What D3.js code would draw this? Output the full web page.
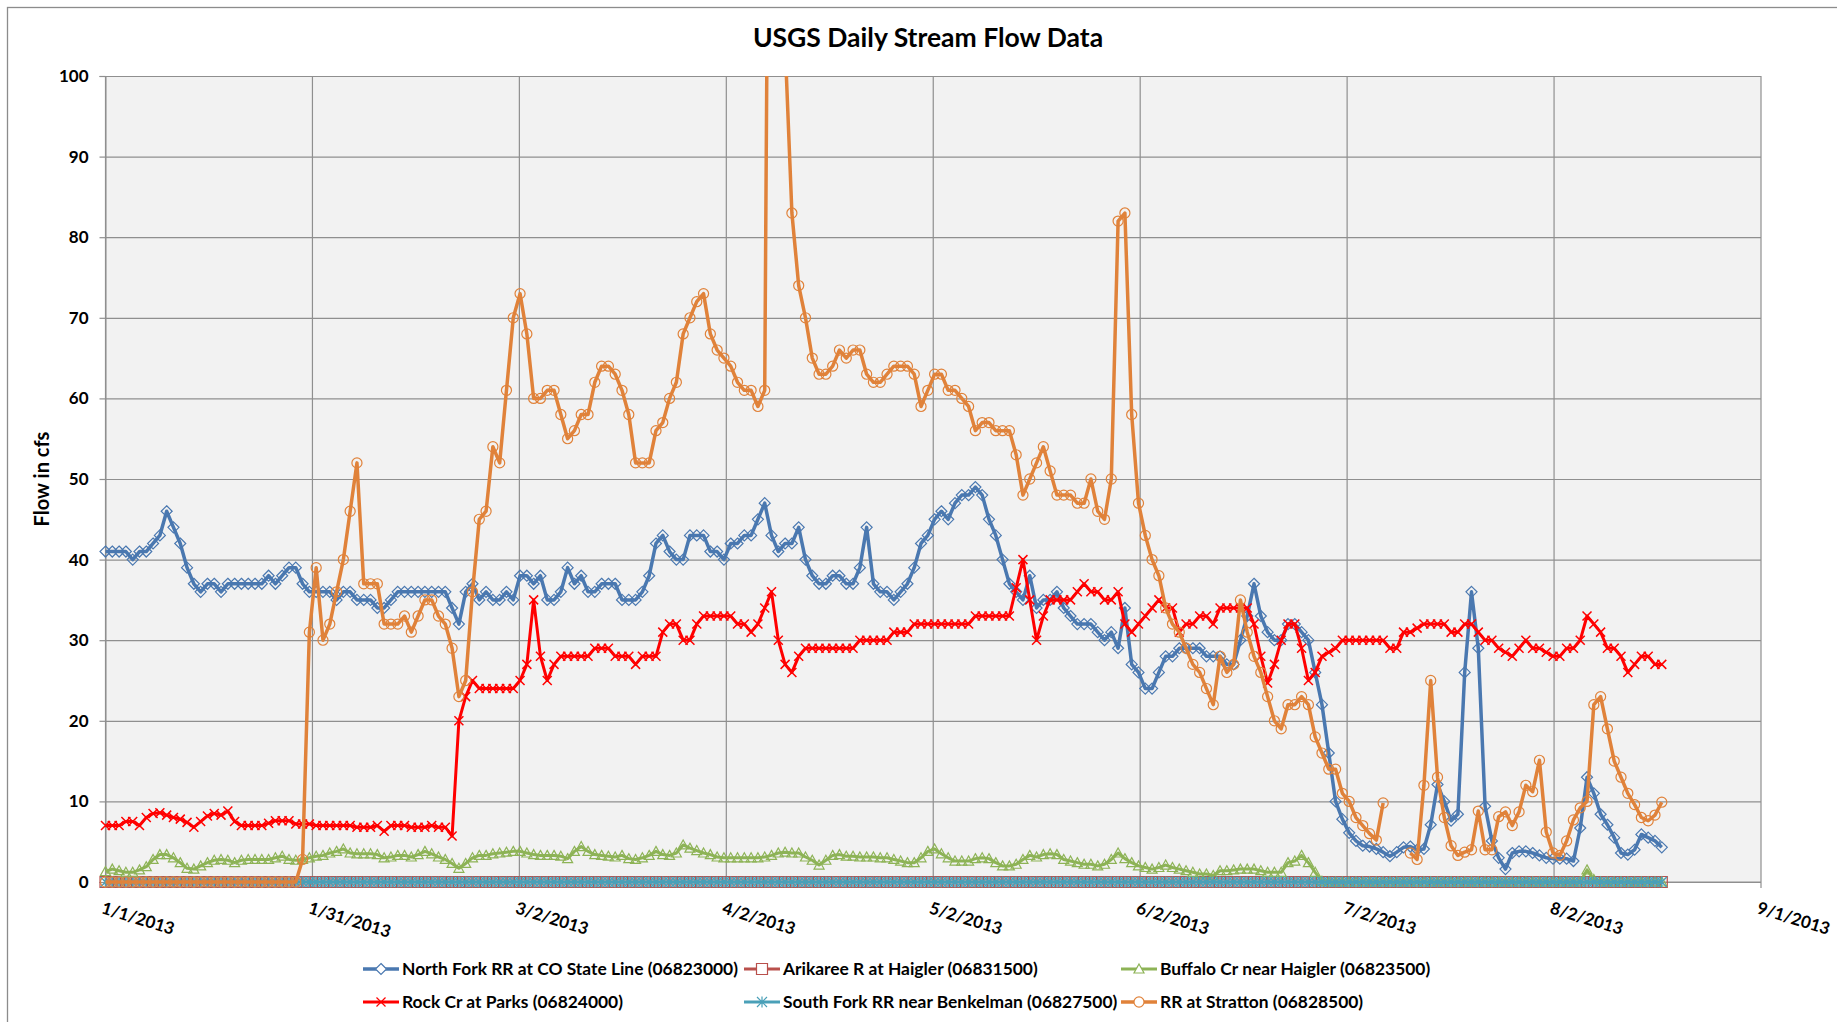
<!DOCTYPE html>
<html lang="en">
<head>
<meta charset="UTF-8">
<title>USGS Daily Stream Flow Data</title>
<style>
  body { margin: 0; background: #fff; }
  svg { display: block; font-family: Lato, "Open Sans", sans-serif; }
  .lbl { font-weight: bold; fill: #000; }
</style>
</head>
<body>
<svg width="1837" height="1022"></svg>
<script src="https://d3js.org/d3.v7.min.js"></script>
<script>
// daily values, 1/1/2013 .. 8/18/2013
var startDate = new Date(2013, 0, 1);
var xTickLabels = ["1/1/2013", "1/31/2013", "3/2/2013", "4/2/2013", "5/2/2013",
                   "6/2/2013", "7/2/2013", "8/2/2013", "9/1/2013"];
var yTicks = [0, 10, 20, 30, 40, 50, 60, 70, 80, 90, 100];

var northFork = [
  41,41,41,41,40,41,41,42,43,46, 44,42,39,37,36,37,37,36,37,37,
  37,37,37,37,38,37,38,39,39,37, 36,36,36,36,35,36,36,35,35,35,
  34,34,35,36,36,36,36,36,36,36, 36,34,32,36,37,35,36,35,35,36,
  35,38,38,37,38,35,35,36,39,37, 38,36,36,37,37,37,35,35,35,36,
  38,42,43,41,40,40,43,43,43,41, 41,40,42,42,43,43,45,47,43,41,
  42,42,44,40,38,37,37,38,38,37, 37,39,44,37,36,36,35,36,37,39,
  42,43,45,46,45,47,48,48,49,48, 45,43,40,37,36,35,38,34,35,35,
  36,34,33,32,32,32,31,30,31,29, 34,27,26,24,24,26,28,28,29,29,
  29,29,28,28,28,27,27,30,33,37, 33,31,30,30,32,32,31,30,26,22,
  16,10,7.8,6.1,5.1,4.5,4.4,4.1,3.7,3.2, 3.7,4.3,4.4,4,4.1,7.1,12.1,10,7.6,8.4,
  26,36,29,9.4,5.1,3,1.6,3.6,3.8,3.8, 3.6,3.3,3,2.9,2.9,2.9,2.6,6.7,13,11,
  8.4,7.1,5.5,3.6,3.4,4,5.9,5.5,5.1,4.3
];

var arikaree = [
  0,0,0,0,0,0,0,0,0,0, 0,0,0,0,0,0,0,0,0,0, 0,0,0,0,0,0,0,0,0,0,
  0,0,0,0,0,0,0,0,0,0, 0,0,0,0,0,0,0,0,0,0, 0,0,0,0,0,0,0,0,0,0,
  0,0,0,0,0,0,0,0,0,0, 0,0,0,0,0,0,0,0,0,0, 0,0,0,0,0,0,0,0,0,0,
  0,0,0,0,0,0,0,0,0,0, 0,0,0,0,0,0,0,0,0,0, 0,0,0,0,0,0,0,0,0,0,
  0,0,0,0,0,0,0,0,0,0, 0,0,0,0,0,0,0,0,0,0, 0,0,0,0,0,0,0,0,0,0,
  0,0,0,0,0,0,0,0,0,0, 0,0,0,0,0,0,0,0,0,0, 0,0,0,0,0,0,0,0,0,0,
  0,0,0,0,0,0,0,0,0,0, 0,0,0,0,0,0,0,0,0,0, 0,0,0,0,0,0,0,0,0,0,
  0,0,0,0,0,0,0,0,0,0, 0,0,0,0,0,0,0,0,0,0
];

var buffalo = [
  1.3,1.6,1.4,1.2,1.2,1.5,1.9,2.8,3.4,3.4, 3,2.4,1.7,1.6,2,2.4,2.7,2.8,2.7,2.4,
  2.7,2.8,2.8,2.8,2.8,3,3.2,2.8,2.7,2.8, 3,3.2,3.3,3.6,3.8,4.1,3.6,3.5,3.5,3.5,
  3.4,3,3.1,3.3,3.3,3.1,3.4,3.8,3.5,3.1, 2.8,2.3,1.7,2.3,3,3.3,3.3,3.5,3.6,3.7,
  3.8,3.8,3.6,3.4,3.3,3.3,3.3,3.2,2.9,3.8, 4.4,3.8,3.4,3.3,3.2,3.1,3.3,2.9,2.8,3,
  3.3,3.8,3.4,3.3,3.6,4.6,4.2,3.9,3.6,3.4, 3.1,3,3,3,3,3,3,3.1,3.3,3.6,
  3.7,3.6,3.6,3.1,2.7,2.1,2.7,3.3,3.4,3.2, 3.2,3.1,3.1,3.1,3,3,2.8,2.6,2.4,2.4,
  3,3.8,4.1,3.5,3,2.6,2.6,2.6,2.9,3, 2.9,2.4,2,2,2.2,2.8,3.3,3.1,3.4,3.5,
  3.4,2.8,2.6,2.4,2.2,2.2,2,2.2,2.8,3.6, 2.9,2.4,2,1.8,1.6,1.8,2.1,1.8,1.6,1.4,
  1.2,1,1,0.8,1.4,1.4,1.5,1.6,1.6,1.6, 1.4,1.2,1.2,1.2,2.4,2.6,3.3,2.4,1.2,0.1,
  0,0,0,0,0,0,0,0,0,0, 0,0,0,0,0,0,0,0,0,0,
  0,0,0,0,0,0,0,0,0,0, 0,0,0,0,0,0,0,0,1.5,0.3,
  0,0,0,0,0,0,0,0,0,0
];

var rockCr = [
  7,7,7,7.5,7.5,7,8,8.5,8.6,8.3, 8,7.8,7.4,6.8,7.5,8.2,8.5,8.3,8.8,7.5,
  7,7,7,7,7.3,7.6,7.6,7.6,7.2,7.2, 7.2,7,7,7,7,7,7,6.8,6.8,6.8,
  7,6.3,7,7,7,6.8,6.8,6.8,7,6.8, 6.8,5.7,20,23,25,24,24,24,24,24,
  24,25,27,35,28,25,27,28,28,28, 28,28,29,29,29,28,28,28,27,28,
  28,28,31,32,32,30,30,32,33,33, 33,33,33,32,32,31,32,34,36,30,
  27,26,28,29,29,29,29,29,29,29, 29,30,30,30,30,30,31,31,31,32,
  32,32,32,32,32,32,32,32,33,33, 33,33,33,33,36.5,40,35,30,33,35,
  35,35,35,36,37,36,36,35,35,36, 32,31,32,33,34,35,34,34,31,32,
  32,33,33,32,34,34,34,34,34,32, 28,24.7,27,30,32,32,29,25,26,28,
  28.5,29,30,30,30,30,30,30,30,29, 29,31,31,31.5,32,32,32,32,31,31,
  32,32,31,30,30,29,28.5,28,29,30, 29,29,28.5,28,28,29,29,30,33,32,
  31,29,29,28,26,27,28,28,27,27
];

var southFork = [
  0,0,0,0,0,0,0,0,0,0, 0,0,0,0,0,0,0,0,0,0, 0,0,0,0,0,0,0,0,0,0,
  0,0,0,0,0,0,0,0,0,0, 0,0,0,0,0,0,0,0,0,0, 0,0,0,0,0,0,0,0,0,0,
  0,0,0,0,0,0,0,0,0,0, 0,0,0,0,0,0,0,0,0,0, 0,0,0,0,0,0,0,0,0,0,
  0,0,0,0,0,0,0,0,0,0, 0,0,0,0,0,0,0,0,0,0, 0,0,0,0,0,0,0,0,0,0,
  0,0,0,0,0,0,0,0,0,0, 0,0,0,0,0,0,0,0,0,0, 0,0,0,0,0,0,0,0,0,0,
  0,0,0,0,0,0,0,0,0,0, 0,0,0,0,0,0,0,0,0,0, 0,0,0,0,0,0,0,0,0,0,
  0,0,0,0,0,0,0,0,0,0, 0,0,0,0,0,0,0,0,0,0, 0,0,0,0,0,0,0,0,0,0,
  0,0,0,0,0,0,0,0,0,0, 0,0,0,0,0,0,0,0,0,0
];

// null = no reading
var stratton = [
  0,0,0,0,0,0,0,0,0,0, 0,0,0,0,0,0,0,0,0,0,
  0,0,0,0,0,0,0,0,0,2.8, 31,39,30,32,36,40,46,52,37,37,
  37,32,32,32,33,31,33,35,35,33, 32,29,23,25,36,45,46,54,52,61,
  70,73,68,60,60,61,61,58,55,56, 58,58,62,64,64,63,61,58,52,52,
  52,56,57,60,62,68,70,72,73,68, 66,65,64,62,61,61,59,61,190,150,
  104,83,74,70,65,63,63,64,66,65, 66,66,63,62,62,63,64,64,64,63,
  59,61,63,63,61,61,60,59,56,57, 57,56,56,56,53,48,50,52,54,51,
  48,48,48,47,47,50,46,45,50,82, 83,58,47,43,40,38,34,32,31,29,
  27,26,24,22,28,26,27,35,31,28, 26,23,20,19,22,22,23,22,18,16,
  14,14,11,10,8,7,6,5.2,9.8,null, null,null,3.6,2.8,12,25,13,8,4.5,3.3,
  3.7,4,8.8,4,4,8.1,8.7,7,8.7,12, 11.2,15.1,6.2,3.6,3.3,5.1,7.7,9.2,10,22,
  23,19,15,13,11,9.6,8,7.6,8.3,9.9
];

var series = [
  {name: "North Fork RR at CO State Line (06823000)", values: northFork, color: "#4a78b0", marker: "diamond", lw: 3.5},
  {name: "Arikaree R at Haigler (06831500)", values: arikaree, color: "#b9504c", marker: "square", lw: 3},
  {name: "Buffalo Cr near Haigler (06823500)", values: buffalo, color: "#8db356", marker: "triangle", lw: 3},
  {name: "Rock Cr at Parks (06824000)", values: rockCr, color: "#ff0000", marker: "x", lw: 3},
  {name: "South Fork RR near Benkelman (06827500)", values: southFork, color: "#4aa0b8", marker: "star", lw: 3},
  {name: "RR at Stratton (06828500)", values: stratton, color: "#e0823a", marker: "circle", lw: 3.5}
];

var svg = d3.select("svg"),
    margin = {top: 76, right: 76, bottom: 140, left: 105.5},
    width = +svg.attr("width") - margin.left - margin.right,
    height = +svg.attr("height") - margin.top - margin.bottom;

var dayMs = 864e5;
var x = d3.scaleTime()
    .domain([startDate, new Date(startDate.getTime() + 243.6 * dayMs)])
    .range([0, width]);
var y = d3.scaleLinear().domain([0, 100]).range([height, 0]);

var tickDates = xTickLabels.map(function(d, i) {
  return new Date(startDate.getTime() + i * 30.45 * dayMs);
});

// chart border
svg.append("rect")
    .attr("x", 7.5).attr("y", 7.5)
    .attr("width", 1840).attr("height", 1030)
    .attr("fill", "none").attr("stroke", "#8c8c8c").attr("stroke-width", 1.3);

svg.append("text")
    .attr("class", "lbl")
    .attr("x", 928).attr("y", 47)
    .attr("text-anchor", "middle")
    .style("font-size", "26.5px")
    .text("USGS Daily Stream Flow Data");

var g = svg.append("g")
    .attr("transform", "translate(" + margin.left + "," + margin.top + ")");

g.append("rect")
    .attr("width", width).attr("height", height)
    .attr("fill", "#f2f2f2");

// horizontal gridlines + y labels
g.append("g")
    .call(d3.axisLeft(y).tickValues(yTicks).tickSize(-width).tickFormat(""))
    .call(function(a) { a.select(".domain").remove(); })
    .selectAll("line").attr("stroke", "#8f8f8f").attr("stroke-width", 1.2);

g.append("g")
    .call(d3.axisLeft(y).tickValues(yTicks).tickSize(6).tickPadding(11))
    .call(function(a) {
      a.select(".domain").attr("stroke", "#8f8f8f");
      a.selectAll("line").attr("stroke", "#8f8f8f").attr("stroke-width", 1.2);
      a.selectAll("text").attr("class", "lbl").style("font-size", "17px")
        .style("font-family", "Lato, sans-serif");
    });

// vertical gridlines, reaching a little below the axis
g.selectAll(".vgrid")
  .data(tickDates)
  .enter().append("line")
    .attr("class", "vgrid")
    .attr("x1", function(d) { return x(d); })
    .attr("x2", function(d) { return x(d); })
    .attr("y1", 0).attr("y2", height + 6)
    .attr("stroke", "#8f8f8f").attr("stroke-width", 1.2);

g.append("line")
    .attr("x1", 0).attr("x2", width)
    .attr("y1", height).attr("y2", height)
    .attr("stroke", "#8f8f8f").attr("stroke-width", 1.2);

g.selectAll(".xlab")
  .data(tickDates)
  .enter().append("text")
    .attr("class", "lbl xlab")
    .style("font-size", "17px")
    .attr("dominant-baseline", "hanging")
    .attr("transform", function(d) {
      return "translate(" + (x(d) - 1) + "," + (height + 18) + ") rotate(17)";
    })
    .text(function(d, i) { return xTickLabels[i]; });

svg.append("text")
    .attr("class", "lbl")
    .attr("transform", "translate(49," + (margin.top + height / 2) + ") rotate(-90)")
    .attr("text-anchor", "middle")
    .style("font-size", "20px")
    .text("Flow in cfs");

function markerPath(type) {
  switch (type) {
    case "diamond": return "M0,-5.5L5.5,0L0,5.5L-5.5,0Z";
    case "square": return "M-5.5,-5.5H5.5V5.5H-5.5Z";
    case "triangle": return "M0,-5L5,4H-5Z";
    case "x": return "M-4.5,-4.5L4.5,4.5M-4.5,4.5L4.5,-4.5";
    case "star": return "M-5,-5L5,5M-5,5L5,-5M0,-5.5V5.5";
    default: return d3.symbol(d3.symbolCircle, 80)();
  }
}

svg.append("defs").append("clipPath").attr("id", "plotclip")
  .append("rect")
    .attr("x", -10).attr("y", 0)
    .attr("width", width + 20).attr("height", height + 12);

var plot = g.append("g").attr("clip-path", "url(#plotclip)");

var line = d3.line()
    .defined(function(d) { return d != null; })
    .x(function(d, i) { return x(d3.timeDay.offset(startDate, i)); })
    .y(function(d) { return y(d); });

series.forEach(function(s) {
  var sg = plot.append("g");
  sg.append("path")
      .datum(s.values)
      .attr("fill", "none")
      .attr("stroke", s.color)
      .attr("stroke-width", s.lw)
      .attr("stroke-linejoin", "round")
      .attr("d", line);
  sg.selectAll(".mk")
    .data(s.values.map(function(v, i) { return {v: v, i: i}; })
                  .filter(function(d) { return d.v != null; }))
    .enter().append("path")
      .attr("class", "mk")
      .attr("transform", function(d) {
        return "translate(" + x(d3.timeDay.offset(startDate, d.i)) + "," + y(d.v) + ")";
      })
      .attr("d", markerPath(s.marker))
      .attr("fill", "none")
      .attr("stroke", s.color)
      .attr("stroke-width", s.marker === "x" || s.marker === "star" ? 1.5 : 1.2);
});

// legend, two rows of three
var legendCols = [363, 744, 1121], legendRows = [969, 1002];
var legend = svg.selectAll(".legend")
  .data(series)
  .enter().append("g")
    .attr("class", "legend")
    .attr("transform", function(d, i) {
      return "translate(" + legendCols[i % 3] + "," + legendRows[Math.floor(i / 3)] + ")";
    });

legend.append("line")
    .attr("x1", 0).attr("x2", 36)
    .attr("stroke", function(d) { return d.color; })
    .attr("stroke-width", function(d) { return d.lw; });

legend.append("path")
    .attr("transform", "translate(18,0)")
    .attr("d", function(d) { return markerPath(d.marker); })
    .attr("fill", "#fff")
    .attr("stroke", function(d) { return d.color; })
    .attr("stroke-width", 1.2);

legend.append("text")
    .attr("class", "lbl")
    .attr("x", 39).attr("dy", "0.35em")
    .style("font-size", "17.4px")
    .text(function(d) { return d.name; });
</script>
</body>
</html>
